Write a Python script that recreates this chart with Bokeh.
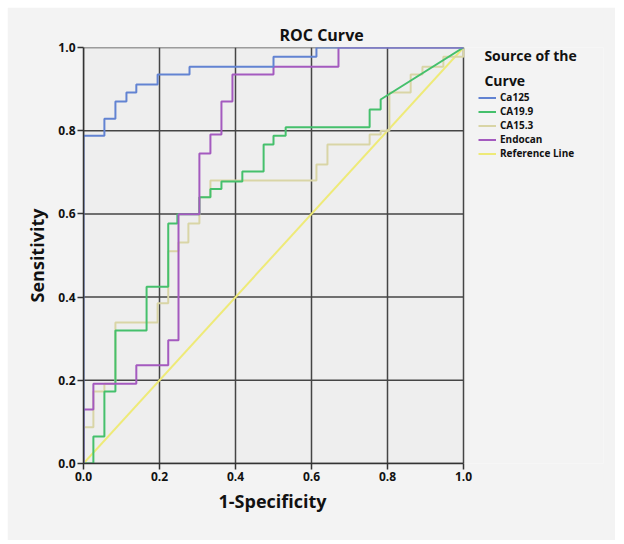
from bokeh.plotting import figure
from bokeh.models import (Range1d, FixedTicker, Legend, LegendItem, PrintfTickFormatter,
                          BoxAnnotation, Label, Title)
from bokeh.embed import file_html
from bokeh.resources import INLINE

# ---- data ----
series_names = ["Ca125", "CA19.9", "CA15.3", "Endocan", "Reference Line"]

ca125_fpr = [0, 0, 0.055, 0.055, 0.084, 0.084, 0.113, 0.113, 0.139, 0.139, 0.195, 0.195,
             0.279, 0.279, 0.5, 0.5, 0.613, 0.613, 1.0]
ca125_tpr = [0, 0.788, 0.788, 0.829, 0.829, 0.870, 0.870, 0.892, 0.892, 0.911, 0.911, 0.935,
             0.935, 0.954, 0.954, 0.978, 0.978, 1.0, 1.0]

ca199_fpr = [0, 0.026, 0.026, 0.055, 0.055, 0.084, 0.084, 0.166, 0.166, 0.223, 0.223, 0.247,
             0.247, 0.305, 0.305, 0.334, 0.334, 0.363, 0.363, 0.418, 0.418, 0.474, 0.474,
             0.5, 0.5, 0.532, 0.532, 0.753, 0.753, 0.782, 0.782, 1.0]
ca199_tpr = [0, 0, 0.065, 0.065, 0.173, 0.173, 0.320, 0.320, 0.425, 0.425, 0.577, 0.577,
             0.599, 0.599, 0.640, 0.640, 0.660, 0.660, 0.678, 0.678, 0.702, 0.702, 0.767,
             0.767, 0.788, 0.788, 0.808, 0.808, 0.851, 0.851, 0.875, 1.0]

ca153_fpr = [0, 0, 0.026, 0.026, 0.055, 0.055, 0.084, 0.084, 0.195, 0.195, 0.223, 0.223,
             0.25, 0.25, 0.276, 0.276, 0.305, 0.305, 0.334, 0.334, 0.613, 0.613, 0.642, 0.642,
             0.753, 0.753, 0.782, 0.782, 0.805, 0.805, 0.861, 0.861, 0.892, 0.892, 0.947,
             0.947, 1.0, 1.0]
ca153_tpr = [0, 0.087, 0.087, 0.173, 0.173, 0.192, 0.192, 0.339, 0.339, 0.385, 0.385, 0.510,
             0.510, 0.531, 0.531, 0.577, 0.577, 0.640, 0.640, 0.680, 0.680, 0.719, 0.719,
             0.767, 0.767, 0.791, 0.791, 0.800, 0.800, 0.892, 0.892, 0.935, 0.935, 0.954,
             0.954, 0.978, 0.978, 1.0]

endocan_fpr = [0, 0, 0.026, 0.026, 0.139, 0.139, 0.223, 0.223, 0.25, 0.25, 0.305, 0.305,
               0.334, 0.334, 0.363, 0.363, 0.392, 0.392, 0.5, 0.5, 0.671, 0.671, 1.0]
endocan_tpr = [0, 0.130, 0.130, 0.192, 0.192, 0.236, 0.236, 0.296, 0.296, 0.599, 0.599,
               0.745, 0.745, 0.791, 0.791, 0.870, 0.870, 0.935, 0.935, 0.954, 0.954, 1.0, 1.0]

ref_x = [0.0, 1.0]
ref_y = [0.0, 1.0]

ticks = [0.0, 0.2, 0.4, 0.6, 0.8, 1.0]

legend_title_lines = ["Source of the", "Curve"]

colors = ["#6283d2", "#45c06c", "#d9d5a6", "#a45abf", "#eeea78"]

FONT = "Open Sans"
PANEL = "#f3f3f3"
PLOT_BG = "#eeeeee"
GRID = "#454545"

# frame extends to the right so that the legend (drawn inside the frame) is not clipped
X_END = 520 / 380.0

p = figure(width=608, height=533, output_backend="svg", toolbar_location=None,
           x_range=Range1d(0, X_END), y_range=Range1d(0, 1),
           min_border_left=76, min_border_right=12, min_border_top=40, min_border_bottom=77,
           background_fill_color=PANEL, border_fill_color=PANEL,
           margin=(7, 0, 0, 7))

p.title.text = "ROC Curve"
p.title.align = "left"
p.title.offset = 196
p.title.text_font = FONT
p.title.text_font_size = "16px"
p.title.text_font_style = "bold"
p.title.text_color = "#111111"
p.title.standoff = 3

p.outline_line_color = None
p.xgrid.grid_line_color = None
p.ygrid.grid_line_color = None

p.add_layout(BoxAnnotation(left=0, right=1, bottom=0, top=1, fill_color=PLOT_BG,
                           fill_alpha=1, line_color=None, level="underlay"))

for ax in (p.xaxis[0], p.yaxis[0]):
    ax.ticker = FixedTicker(ticks=ticks)
    ax.formatter = PrintfTickFormatter(format="%.1f")
    ax.bounds = (0, 1)
    ax.major_label_text_font = FONT
    ax.major_label_text_font_style = "bold"
    ax.major_label_text_font_size = "12px"
    ax.major_label_text_color = "#111111"
    ax.axis_label_text_font = FONT
    ax.axis_label_text_font_style = "bold"
    ax.axis_label_text_font_size = "18px"
    ax.axis_label_text_color = "#111111"
    ax.axis_line_color = "#333333"
    ax.axis_line_width = 1.5
    ax.major_tick_line_color = "#333333"
    ax.major_tick_line_width = 1.5
    ax.major_tick_out = 6
    ax.major_tick_in = 0
    ax.minor_tick_line_color = None
    ax.major_label_standoff = 2

p.yaxis[0].axis_label = "Sensitivity"
p.yaxis[0].axis_label_standoff = 6

# x axis label as a title below the axis, centred on the square plot area
xlab = Title(text="1-Specificity", align="left", offset=135, text_font=FONT,
             text_font_style="bold", text_font_size="18px", text_color="#111111",
             standoff=6)
p.add_layout(xlab, "below")

# grid lines of the square plot area, from the tick values
p.segment(x0=ticks, x1=ticks, y0=[0] * len(ticks), y1=[1] * len(ticks),
          line_color=GRID, line_width=1.5)
p.segment(x0=[0] * len(ticks), x1=[1] * len(ticks), y0=ticks, y1=ticks,
          line_color=GRID, line_width=1.5)

data = [(ca125_fpr, ca125_tpr), (ca199_fpr, ca199_tpr), (ca153_fpr, ca153_tpr),
        (endocan_fpr, endocan_tpr), (ref_x, ref_y)]
draw_order = [4, 2, 1, 3, 0]
r_by_idx = {}
for i in draw_order:
    xs, ys = data[i]
    r_by_idx[i] = p.line(xs, ys, line_color=colors[i], line_width=2)

# legend title (two lines, widely spaced as in the reference)
for txt, yy in zip(legend_title_lines, [0.981, 0.921]):
    p.add_layout(Label(x=1.055, y=yy, text=txt, text_font=FONT, text_font_style="bold",
                       text_font_size="14px", text_color="#111111",
                       text_align="left", text_baseline="middle"))

items = [LegendItem(label=series_names[i], renderers=[r_by_idx[i]]) for i in range(5)]
legend = Legend(items=items, location=(395, 303))
legend.label_text_font = FONT
legend.label_text_font_style = "bold"
legend.label_text_font_size = "10px"
legend.label_text_color = "#111111"
legend.label_standoff = 4
legend.label_height = 13
legend.glyph_height = 13
legend.glyph_width = 18
legend.spacing = 0
legend.padding = 0
legend.margin = 0
legend.border_line_color = None
legend.background_fill_alpha = 0
p.add_layout(legend, "center")

open("out.html", "w").write(file_html(p, INLINE))
